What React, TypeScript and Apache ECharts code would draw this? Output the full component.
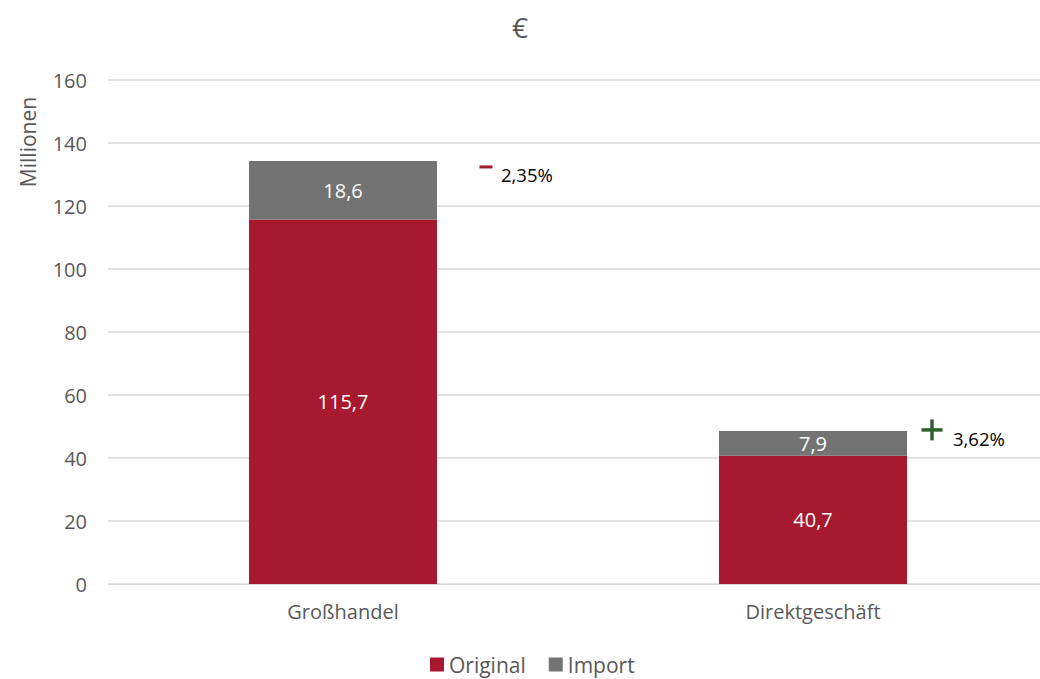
import React, { useEffect, useRef } from "react";
import * as echarts from "echarts";

const categories = ["Großhandel", "Direktgeschäft"];
const originalValues = [115.7, 40.7];
const importValues = [18.6, 7.9];
const yTicks = { min: 0, max: 160, interval: 20 };
const yAxisName = "Millionen";
const changeSigns = ["-", "+"];
const changeTexts = ["2,35%", "3,62%"];

const FONT = "'Open Sans', 'Noto Sans', sans-serif";
const RED = "#A6192E";
const GREEN = "#2F612B";
const GRAY = "#727372";
const TEXT = "#595959";
const FS = 20;

const fmt = (v: number) => v.toFixed(1).replace(".", ",");

export default function App() {
  const ref = useRef<HTMLDivElement>(null);
  useEffect(() => {
    if (!ref.current) return;
    const chart = echarts.init(ref.current, null, { renderer: "svg" });
    chart.setOption({
      animation: false,
      textStyle: { fontFamily: FONT },
      title: {
        text: "€",
        left: "center",
        top: 8,
        textStyle: { color: TEXT, fontSize: 28, fontWeight: "normal", fontFamily: FONT },
      },
      legend: {
        bottom: -1,
        left: 425,
        itemWidth: 14,
        itemHeight: 14,
        itemGap: 23,
        icon: "rect",
        textStyle: { color: TEXT, fontSize: 21, fontFamily: FONT },
        data: ["Original", "Import"],
      },
      grid: { left: 108, width: 940, top: 80, height: 504, containLabel: false, outerBoundsMode: "none" },
      xAxis: {
        type: "category",
        data: categories,
        axisLine: { show: true, lineStyle: { color: "#D9D9D9" } },
        axisTick: { show: false },
        axisLabel: { color: TEXT, fontSize: FS, margin: 17, fontFamily: FONT },
      },
      yAxis: {
        type: "value",
        min: yTicks.min,
        max: yTicks.max,
        interval: yTicks.interval,
        axisLine: { show: false },
        axisTick: { show: false },
        axisLabel: { color: TEXT, fontSize: FS, margin: 21, fontFamily: FONT },
        splitLine: { lineStyle: { color: "#D9D9D9", width: 1.5 } },
      },
      series: [
        {
          name: "Original",
          type: "bar",
          stack: "total",
          data: originalValues,
          barCategoryGap: "60%",
          itemStyle: { color: RED },
          label: { show: true, position: "inside", color: "#fff", fontSize: FS, fontFamily: FONT, formatter: (p: any) => fmt(p.value) },
        },
        {
          name: "Import",
          type: "bar",
          stack: "total",
          data: importValues,
          barCategoryGap: "60%",
          itemStyle: { color: GRAY },
          label: { show: true, position: "inside", color: "#fff", fontSize: FS, fontFamily: FONT, formatter: (p: any) => fmt(p.value) },
        },
      ],
    });
    const totals = originalValues.map((v, i) => v + importValues[i]);
    const elements: any[] = [
      {
        type: "text",
        x: 28,
        y: 142,
        rotation: Math.PI / 2,
        style: { text: yAxisName, fill: TEXT, font: `21px ${FONT}`, textAlign: "center", textVerticalAlign: "middle" },
      },
    ];
    categories.forEach((c, i) => {
      const [cx, cy] = chart.convertToPixel({ gridIndex: 0 }, [i, totals[i]]) as number[];
      const isMinus = changeSigns[i] === "-";
      if (isMinus) {
        const sx = cx + 143;
        const sy = cy + 6;
        elements.push({ type: "rect", shape: { x: sx - 6.5, y: sy - 1.5, width: 13, height: 3 }, style: { fill: RED } });
        elements.push({
          type: "text",
          x: sx + 15,
          y: sy + 8,
          style: { text: changeTexts[i], fill: "#000", font: `18.5px ${FONT}`, textAlign: "left", textVerticalAlign: "middle" },
        });
      } else {
        const sx = cx + 119;
        const sy = cy - 1;
        elements.push({ type: "rect", shape: { x: sx - 10.5, y: sy - 1.75, width: 21, height: 3.5 }, style: { fill: GREEN } });
        elements.push({ type: "rect", shape: { x: sx - 1.75, y: sy - 10.5, width: 3.5, height: 21 }, style: { fill: GREEN } });
        elements.push({
          type: "text",
          x: sx + 21,
          y: sy + 9,
          style: { text: changeTexts[i], fill: "#000", font: `18.5px ${FONT}`, textAlign: "left", textVerticalAlign: "middle" },
        });
      }
    });
    chart.setOption({ graphic: elements });
    return () => chart.dispose();
  }, []);
  return <div ref={ref} style={{ position: "absolute", left: 0, top: 0, width: 1040, height: 679 }} />;
}
